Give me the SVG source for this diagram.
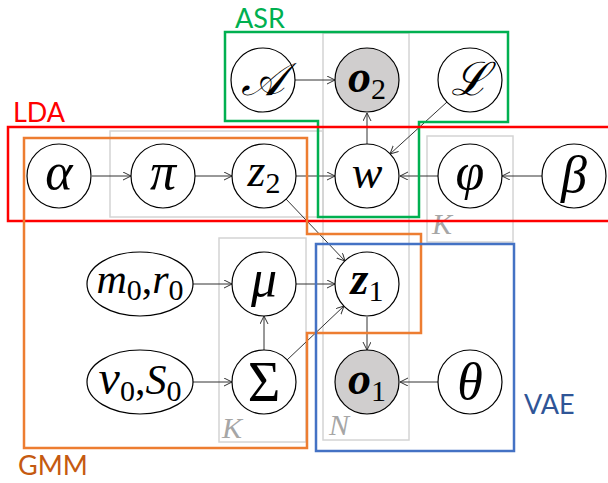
<svg xmlns="http://www.w3.org/2000/svg" width="608" height="483" viewBox="0 0 608 483">
<defs>
<marker id="arr" markerUnits="userSpaceOnUse" markerWidth="10" markerHeight="10" refX="8" refY="4" orient="auto">
<path d="M0,0 L8,4 L0,8" fill="none" stroke="#333" stroke-width="1"/>
</marker>
</defs>
<style>
.node{fill:#fff;stroke:#000;stroke-width:1.2}
.obs{fill:#d0cece;stroke:#000;stroke-width:1.2}
.m{font-family:"Liberation Serif",serif;font-style:italic;font-size:46px;text-anchor:middle;fill:#000}
.m.g{font-size:52px}
.m.e{font-size:42px}
.m.s{font-size:56px;font-style:normal}
.up{font-style:normal}
.sub{font-style:normal;font-size:30px}
.edge{stroke:#333;stroke-width:1;fill:none;marker-end:url(#arr)}
.plate{fill:none;stroke:#d4d4d4;stroke-width:1.5}
.plabel{font-family:"Liberation Serif",serif;font-style:italic;font-size:30px;fill:#a6a6a6}
.box{fill:none;stroke-width:2.5}
.lab{font-family:Lato,"Liberation Sans",sans-serif;font-size:27px}
</style>
<g id="plates">
<rect class="plate" x="110" y="131" width="213" height="86"/>
<rect class="plate" x="323" y="33" width="86" height="407"/>
<rect class="plate" x="427" y="136" width="86" height="106"/>
<text class="plabel" x="432" y="234">K</text>
<rect class="plate" x="219" y="238" width="87" height="204"/>
<text class="plabel" x="222" y="438">K</text>
<text class="plabel" x="329" y="435">N</text>
</g>
<g id="connectors">
<line class="edge" x1="295" y1="80" x2="335" y2="80"/>
<line class="edge" x1="92" y1="176" x2="131" y2="176"/>
<line class="edge" x1="195" y1="176" x2="232" y2="176"/>
<line class="edge" x1="296" y1="176" x2="335" y2="176"/>
<line class="edge" x1="367" y1="144" x2="367" y2="113"/>
<line class="edge" x1="447" y1="102" x2="390" y2="154"/>
<line class="edge" x1="438" y1="176" x2="400" y2="176"/>
<line class="edge" x1="542" y1="176" x2="502" y2="176"/>
<line class="edge" x1="286" y1="199" x2="345" y2="261"/>
<line class="edge" x1="193" y1="284" x2="232" y2="284"/>
<line class="edge" x1="296" y1="284" x2="335" y2="284"/>
<line class="edge" x1="264" y1="350" x2="264" y2="316"/>
<line class="edge" x1="287" y1="360" x2="344" y2="306"/>
<line class="edge" x1="193" y1="382" x2="232" y2="382"/>
<line class="edge" x1="367" y1="317" x2="367" y2="350"/>
<line class="edge" x1="438" y1="382" x2="400" y2="382"/>
</g>
<g id="node-A"><circle class="node" cx="263" cy="80" r="32"/><text class="m" x="263" y="95">𝒜</text></g>
<g id="node-o2"><circle class="obs" cx="367" cy="80" r="32"/><text class="m" x="367" y="92"><tspan font-weight="bold">o</tspan><tspan class="sub" dy="7">2</tspan></text></g>
<g id="node-L"><circle class="node" cx="470" cy="80" r="32"/><text class="m" x="470" y="95">ℒ</text></g>
<g id="node-alpha"><circle class="node" cx="59" cy="176" r="32"/><text class="m g" x="59" y="189">α</text></g>
<g id="node-pi"><circle class="node" cx="163" cy="176" r="32"/><text class="m g" x="163" y="189">π</text></g>
<g id="node-z2"><circle class="node" cx="264" cy="176" r="32"/><text class="m" x="264" y="186">z<tspan class="sub" dy="7">2</tspan></text></g>
<g id="node-w"><circle class="node" cx="367" cy="176" r="32"/><text class="m" x="367" y="188">w</text></g>
<g id="node-phi"><circle class="node" cx="470" cy="176" r="32"/><text class="m g" x="470" y="189">φ</text></g>
<g id="node-beta"><circle class="node" cx="574" cy="176" r="32"/><text class="m g" x="574" y="192">β</text></g>
<g id="node-m0r0"><ellipse class="node" cx="140" cy="284" rx="53" ry="32"/><text class="m e" x="140" y="293">m<tspan class="sub" dy="7">0</tspan><tspan class="up" dy="-7">,</tspan>r<tspan class="sub" dy="7">0</tspan></text></g>
<g id="node-mu"><circle class="node" cx="264" cy="284" r="32"/><text class="m g" x="264" y="296">μ</text></g>
<g id="node-z1"><circle class="node" cx="367" cy="284" r="32"/><text class="m" x="367" y="294"><tspan font-weight="bold">z</tspan><tspan class="sub" dy="7">1</tspan></text></g>
<g id="node-nu0S0"><ellipse class="node" cx="140" cy="382" rx="53" ry="32"/><text class="m e" x="140" y="394"><tspan style="font-size:48px">ν</tspan><tspan class="sub" dy="7">0</tspan><tspan class="up" dy="-7">,</tspan>S<tspan class="sub" dy="7">0</tspan></text></g>
<g id="node-Sigma"><circle class="node" cx="264" cy="382" r="32"/><text class="m s" x="264" y="401">Σ</text></g>
<g id="node-o1"><circle class="obs" cx="367" cy="382" r="32"/><text class="m" x="367" y="394"><tspan font-weight="bold">o</tspan><tspan class="sub" dy="7">1</tspan></text></g>
<g id="node-theta"><circle class="node" cx="470" cy="382" r="32"/><text class="m g" x="470" y="399">θ</text></g>
<g id="group-ASR">
<path class="box" stroke="#00b050" d="M225,32 L508,32 L508,122 L419,122 L419,217 L318,217 L318,121 L225,121 Z"/>
<text class="lab" fill="#00b050" x="235" y="28">ASR</text>
</g>
<g id="group-LDA">
<rect class="box" stroke="#ff0000" x="8" y="127" width="612" height="94"/>
<text class="lab" fill="#ff0000" x="13" y="122">LDA</text>
</g>
<g id="group-GMM">
<path class="box" stroke="#ed7d31" d="M24,138 L307,138 L307,234 L421,234 L421,333 L307,333 L307,448 L24,448 Z"/>
<text class="lab" fill="#c55a11" x="18" y="475">GMM</text>
</g>
<g id="group-VAE">
<rect class="box" stroke="#4472c4" x="316" y="244" width="198" height="207"/>
<text class="lab" fill="#2f5597" x="524" y="414">VAE</text>
</g>
</svg>
